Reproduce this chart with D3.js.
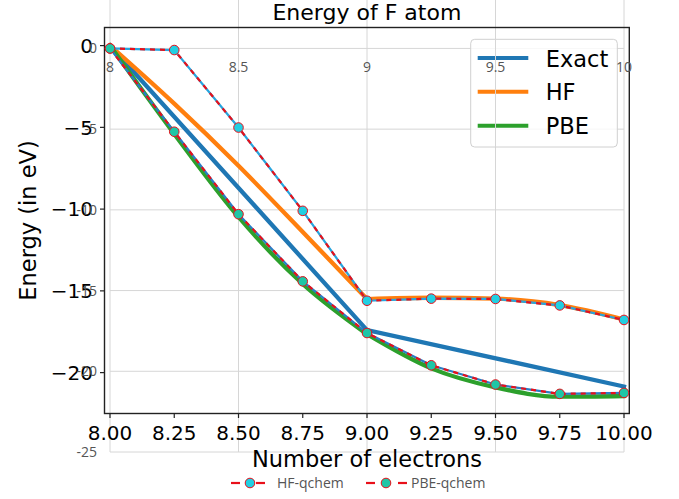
<!DOCTYPE html>
<html><head><meta charset="utf-8">
<script src="https://cdn.jsdelivr.net/npm/d3@7"></script>
<style>html,body{margin:0;padding:0;background:#fff;} svg{display:block;}</style>
</head><body>
<svg id="chart" width="679" height="499"></svg>
<script>
// ---------- data ----------
const electrons = [8, 8.25, 8.5, 8.75, 9, 9.25, 9.5, 9.75, 10];
const hfQchem  = [0, -0.1, -4.9, -10.06, -15.63, -15.5, -15.52, -15.92, -16.82];
const pbeQchem = [0, -5.16, -10.27, -14.43, -17.63, -19.63, -20.82, -21.4, -21.34];
const exactN = [8, 9, 10];
const exactE = [0, -17.4, -20.85];
const hfCurve  = [0, -3.55, -7.35, -11.4, -15.5, -15.42, -15.48, -15.87, -16.75];
const pbeCurve = [0, -5.4, -10.48, -14.58, -17.65, -19.74, -20.9, -21.47, -21.43];
const mplXTicks = [8, 8.25, 8.5, 8.75, 9, 9.25, 9.5, 9.75, 10];
const mplYTicks = [0, -5, -10, -15, -20];
const innerXTicks = [8, 8.5, 9, 9.5, 10];
const innerYTicks = [0, -5, -10, -15, -20, -25];
const mplLegend = ["Exact", "HF", "PBE"];
const qLegend = ["HF-qchem", "PBE-qchem"];
const title = "Energy of F atom";
const xLabel = "Number of electrons";
const yLabel = "Energy (in eV)";

const svg = d3.select("#chart");
const MPL = "DejaVu Sans, sans-serif";
const PL = "'Open Sans', sans-serif";
const C = {exact:"#1f77b4", hf:"#ff7f0e", pbe:"#2ca02c"};

// ---------- scales ----------
const frame = {l:104.5, r:629.3, t:27.5, b:413.5};
const xM = d3.scaleLinear().domain([7.9786, 10.0206]).range([frame.l, frame.r]);
const yM = d3.scaleLinear().domain([-22.5, 1.107]).range([frame.b, frame.t]);
const xI = d3.scaleLinear().domain([8, 10]).range([110, 624]);
const yI = d3.scaleLinear().domain([-25, 3]).range([452, 0]);

// ---------- inner grid (bottom layer) ----------
const grid = svg.append("g");
const gridColor = "#d6d6d6";
grid.selectAll("line.v").data(innerXTicks).join("line")
  .attr("x1", d => xI(d)).attr("x2", d => xI(d))
  .attr("y1", yI(3)).attr("y2", yI(-25))
  .attr("stroke", gridColor).attr("stroke-width", 1);
grid.selectAll("line.h").data(innerYTicks).join("line")
  .attr("x1", xI(8)).attr("x2", xI(10))
  .attr("y1", d => yI(d)).attr("y2", d => yI(d))
  .attr("stroke", gridColor).attr("stroke-width", 1);

// ---------- matplotlib layer ----------
const m = svg.append("g");
svg.append("defs").append("clipPath").attr("id", "clipM").append("rect")
  .attr("x", frame.l).attr("y", frame.t).attr("width", frame.r - frame.l).attr("height", frame.b - frame.t);

const lineM = d3.line().x(d => xM(d[0])).y(d => yM(d[1])).curve(d3.curveMonotoneX);
const lines = m.append("g").attr("clip-path", "url(#clipM)");
function seg(vals, a, b){ return electrons.slice(a, b+1).map((n,i)=>[n, vals[a+i]]); }
lines.append("path").attr("d", d3.line().x(d=>xM(d[0])).y(d=>yM(d[1]))(exactN.map((n,i)=>[n, exactE[i]])))
  .attr("fill","none").attr("stroke",C.exact).attr("stroke-width",4.3).attr("stroke-linecap","square");
[[hfCurve, C.hf],[pbeCurve, C.pbe]].forEach(([vals,col]) => {
  [[0,4],[4,8]].forEach(([a,b]) => {
    lines.append("path").attr("d", lineM(seg(vals,a,b)))
      .attr("fill","none").attr("stroke",col).attr("stroke-width",4.3).attr("stroke-linecap","square");
  });
});

// frame
m.append("rect").attr("x", frame.l).attr("y", frame.t).attr("width", frame.r-frame.l).attr("height", frame.b-frame.t)
  .attr("fill","none").attr("stroke","#222").attr("stroke-width",1.4);

// mpl ticks
m.selectAll("line.xt").data(mplXTicks).join("line")
  .attr("x1", d=>xM(d)).attr("x2", d=>xM(d)).attr("y1", frame.b).attr("y2", frame.b+4.5)
  .attr("stroke","#222").attr("stroke-width",1.2);
m.selectAll("text.xt").data(mplXTicks).join("text")
  .attr("x", d=>xM(d)).attr("y", 440).attr("text-anchor","middle")
  .attr("font-family", MPL).attr("font-size", 20).attr("fill","#000")
  .text(d => d.toFixed(2));
m.selectAll("line.yt").data(mplYTicks).join("line")
  .attr("x1", frame.l-4.5).attr("x2", frame.l).attr("y1", d=>yM(d)).attr("y2", d=>yM(d))
  .attr("stroke","#222").attr("stroke-width",1.2);
m.selectAll("text.yt").data(mplYTicks).join("text")
  .attr("x", 93).attr("y", d=>yM(d)+7.3).attr("text-anchor","end")
  .attr("font-family", MPL).attr("font-size", 20).attr("fill","#000")
  .text(d => d < 0 ? "\u2212" + Math.abs(d) : String(d));

// titles
m.append("text").attr("x", (frame.l+frame.r)/2).attr("y", 19.5).attr("text-anchor","middle")
  .attr("font-family", MPL).attr("font-size", 22).attr("fill","#000").text(title);
m.append("text").attr("x", (frame.l+frame.r)/2).attr("y", 467).attr("text-anchor","middle")
  .attr("font-family", MPL).attr("font-size", 22.5).attr("fill","#000").text(xLabel);
m.append("text").attr("transform", `translate(36,${(frame.t+frame.b)/2}) rotate(-90)`).attr("text-anchor","middle")
  .attr("font-family", MPL).attr("font-size", 22.5).attr("fill","#000").text(yLabel);

// mpl legend
const lg = m.append("g");
lg.append("rect").attr("x", 470.7).attr("y", 39.3).attr("width", 146.6).attr("height", 107.7)
  .attr("rx", 4).attr("fill","rgba(255,255,255,0.8)").attr("stroke","#d0d0d0").attr("stroke-width",1);
const lgCols = [C.exact, C.hf, C.pbe];
const lgY = [58, 91.7, 125.7];
mplLegend.forEach((name,i) => {
  lg.append("line").attr("x1", 477.7).attr("x2", 528.3).attr("y1", lgY[i]).attr("y2", lgY[i])
    .attr("stroke", lgCols[i]).attr("stroke-width", 4);
  lg.append("text").attr("x", 545.7).attr("y", lgY[i]+8.6)
    .attr("font-family", MPL).attr("font-size", 22.5).attr("fill","#000").text(name);
});

// ---------- plotly-like overlay ----------
const p = svg.append("g");
p.selectAll("line.vg").data(innerXTicks.filter(d => xI(d) > 470 && xI(d) < 618)).join("line")
  .attr("x1", d=>xI(d)).attr("x2", d=>xI(d)).attr("y1", 39.3).attr("y2", 147)
  .attr("stroke", gridColor).attr("stroke-width", 1);

p.selectAll("text.ix").data(innerXTicks).join("text")
  .attr("x", d=>xI(d)).attr("y", yI(0)+23.7).attr("text-anchor","middle")
  .attr("font-family", PL).attr("font-size", 14).attr("fill","#555")
  .text(d => String(d));
p.selectAll("text.iy").data(innerYTicks).join("text")
  .attr("x", 97).attr("y", d=>yI(d)+5).attr("text-anchor","end")
  .attr("font-family", PL).attr("font-size", 14).attr("fill","#555")
  .text(d => String(d));

const lineI = d3.line().x(d=>xI(d[0])).y(d=>yI(d[1]));
const traces = [
  {vals: hfQchem, under: "#27a4de", fill: "#22cfe2"},
  {vals: pbeQchem, under: "#2a7cc4", fill: "#1fc6a6"}
];
traces.forEach(t => {
  const pts = electrons.map((n,i)=>[n, t.vals[i]]);
  p.append("path").attr("d", lineI(pts)).attr("fill","none").attr("stroke", t.under).attr("stroke-width", 2.2);
  p.append("path").attr("d", lineI(pts)).attr("fill","none").attr("stroke", "#e8101a")
    .attr("stroke-width", 2.2).attr("stroke-dasharray", "5,5");
});
traces.forEach(t => {
  p.selectAll(null).data(electrons.map((n,i)=>[n, t.vals[i]])).join("circle")
    .attr("cx", d=>xI(d[0])).attr("cy", d=>yI(d[1])).attr("r", 4.8)
    .attr("fill", t.fill).attr("stroke", "#e8101a").attr("stroke-width", 1);
});

// bottom legend
const bl = [{x0: 231, x1: 265, mx: 250, tx: 277, fill: traces[0].fill},
            {x0: 366, x1: 407, mx: 386, tx: 411, fill: traces[1].fill}];
qLegend.forEach((name,i) => {
  const b = bl[i];
  p.append("line").attr("x1", b.x0).attr("x2", b.x0 + 9).attr("y1", 483).attr("y2", 483)
    .attr("stroke", "#e8101a").attr("stroke-width", 2.2);
  p.append("line").attr("x1", b.x1).attr("x2", b.x1 - 9).attr("y1", 483).attr("y2", 483)
    .attr("stroke", "#e8101a").attr("stroke-width", 2.2);
  p.append("circle").attr("cx", b.mx).attr("cy", 483).attr("r", 4.8)
    .attr("fill", b.fill).attr("stroke", "#e8101a").attr("stroke-width", 1);
  p.append("text").attr("x", b.tx).attr("y", 488)
    .attr("font-family", PL).attr("font-size", 14).attr("fill","#555").text(name);
});
</script>
</body></html>
